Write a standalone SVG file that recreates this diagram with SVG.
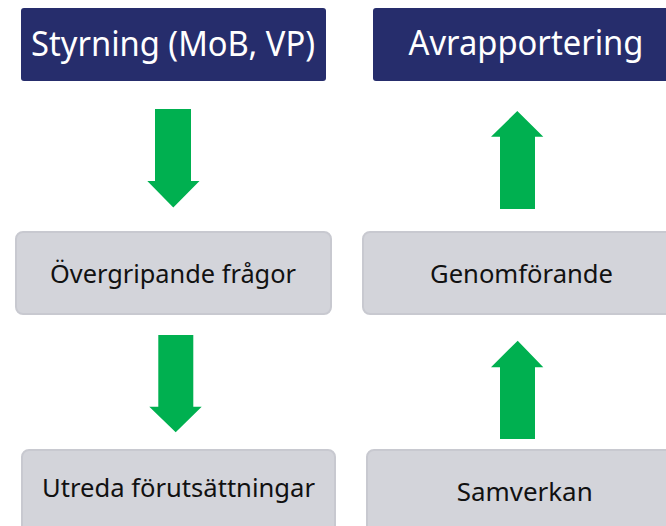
<svg xmlns="http://www.w3.org/2000/svg" width="666" height="526" viewBox="0 0 666 526">
<style>
.hdr{fill:#262d6c;}
.hdrt{fill:#ffffff;font-family:"Noto Sans","Open Sans",sans-serif;font-size:34px;text-anchor:middle;}
.box{fill:#d3d4da;stroke:#c8c9d0;stroke-width:2;}
.boxt{fill:#111111;font-family:"Noto Sans","Open Sans",sans-serif;font-size:26px;text-anchor:middle;}
.arr{fill:#00b050;}
</style>
<rect width="666" height="526" fill="#ffffff"/>
<g id="styrning">
<rect class="hdr" x="21" y="8" width="305" height="73" rx="3"/>
<text class="hdrt" x="173" y="56" textLength="284" lengthAdjust="spacingAndGlyphs">Styrning (MoB, VP)</text>
</g>
<g id="avrapportering">
<rect class="hdr" x="373" y="8" width="310" height="73" rx="3"/>
<text class="hdrt" x="526" y="55" textLength="235" lengthAdjust="spacingAndGlyphs">Avrapportering</text>
</g>
<g id="overgripande">
<rect class="box" x="16" y="232" width="315" height="82" rx="7"/>
<text class="boxt" x="173" y="283" textLength="246" lengthAdjust="spacingAndGlyphs">Övergripande frågor</text>
</g>
<g id="genomforande">
<rect class="box" x="363" y="232" width="320" height="82" rx="7"/>
<text class="boxt" x="521.5" y="283" textLength="183" lengthAdjust="spacingAndGlyphs">Genomförande</text>
</g>
<g id="utreda">
<rect class="box" x="22" y="450" width="313" height="90" rx="7"/>
<text class="boxt" x="178.5" y="497" textLength="273" lengthAdjust="spacingAndGlyphs">Utreda förutsättningar</text>
</g>
<g id="samverkan">
<rect class="box" x="367" y="450" width="316" height="90" rx="7"/>
<text class="boxt" x="524.7" y="501" textLength="136" lengthAdjust="spacingAndGlyphs">Samverkan</text>
</g>
<g id="connectors">
<polygon class="arr" points="155,109 191,109 191,181 199.5,181 173.3,207.5 147.3,181 155,181"/>
<polygon class="arr" points="158.3,335 193.3,335 193.3,406.7 201.7,406.7 175.7,432.3 149.3,406.7 158.3,406.7"/>
<polygon class="arr" points="500,209 535,209 535,136.7 543.3,136.7 517.3,111 491,136.7 500,136.7"/>
<polygon class="arr" points="500,439 535,439 535,367.3 543.3,367.3 517.7,340.7 491,367.3 500,367.3"/>
</g>
</svg>
